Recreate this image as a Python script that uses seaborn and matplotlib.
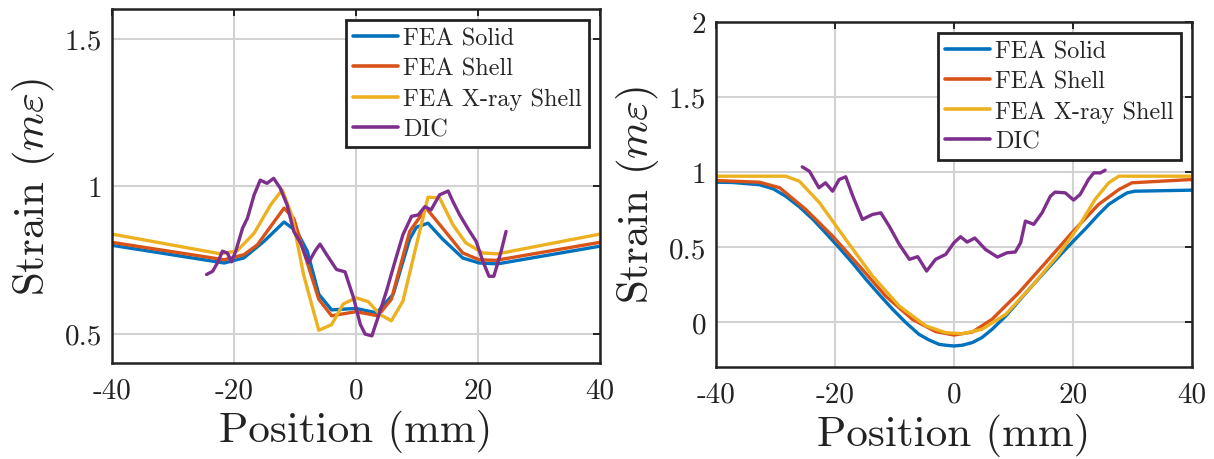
import numpy as np
import pandas as pd
import matplotlib
matplotlib.use("Agg")
import matplotlib.pyplot as plt
import seaborn as sns

# ---------------- data ----------------
series_names = ["FEA Solid", "FEA Shell", "FEA X-ray Shell", "DIC"]
series_colors = ["#0072BD", "#D95319", "#EDB120", "#7E2F8E"]

# Left panel
L_solid_x = [-40, -21.6, -18.4, -15.1, -11.8, -9.7, -8.0, -6.1, -4.0, 0.0, 3.4, 6.1, 8.8, 9.9, 11.8, 14.2, 17.5, 20.2, 23.2, 40]
L_solid_y = [0.799, 0.739, 0.756, 0.812, 0.878, 0.846, 0.78, 0.633, 0.58, 0.585, 0.57, 0.633, 0.82, 0.86, 0.874, 0.82, 0.756, 0.739, 0.736, 0.796]

L_shell_x = [-40, -21.6, -18.4, -16.2, -11.8, -10.2, -8.6, -6.1, -4.0, 0.0, 3.6, 5.8, 8.8, 11.5, 14.2, 17.5, 20.2, 22.9, 40]
L_shell_y = [0.809, 0.75, 0.767, 0.80, 0.925, 0.89, 0.78, 0.616, 0.56, 0.574, 0.56, 0.616, 0.846, 0.925, 0.857, 0.773, 0.75, 0.748, 0.809]

L_xray_x = [-40, -22.2, -19.5, -16.7, -14.0, -12.1, -10.5, -8.6, -7.5, -6.1, -4.0, -2.1, 0.0, 2.0, 3.9, 5.8, 7.7, 9.9, 11.8, 13.7, 15.9, 18.0, 20.8, 23.2, 40]
L_xray_y = [0.837, 0.77, 0.78, 0.84, 0.936, 0.987, 0.90, 0.70, 0.616, 0.511, 0.53, 0.60, 0.621, 0.608, 0.565, 0.543, 0.61, 0.80, 0.962, 0.96, 0.868, 0.807, 0.773, 0.77, 0.837]

L_dic_x = [-24.5, -23.5, -22.7, -21.9, -21.1, -20.4, -19.7, -18.6, -17.8, -16.7, -15.7, -14.6, -13.5, -12.4, -11.3, -10.2, -9.1, -7.8, -6.7, -5.9, -4.8, -3.2, -1.8, -0.4, 0.7, 1.5, 2.6, 3.6, 5.0, 6.4, 7.7, 9.1, 10.2, 11.3, 12.3, 13.7, 15.1, 15.9, 17.0, 18.3, 19.7, 20.8, 21.8, 22.6, 23.8, 24.6]
L_dic_y = [0.70, 0.711, 0.74, 0.779, 0.773, 0.743, 0.78, 0.857, 0.891, 0.97, 1.02, 1.009, 1.026, 0.992, 0.936, 0.846, 0.807, 0.739, 0.78, 0.803, 0.767, 0.717, 0.709, 0.621, 0.531, 0.498, 0.492, 0.554, 0.644, 0.745, 0.835, 0.897, 0.902, 0.93, 0.919, 0.97, 0.983, 0.947, 0.902, 0.857, 0.812, 0.745, 0.694, 0.694, 0.779, 0.846]

# Right panel
R_solid_x = [-40, -37.2, -32.7, -30.4, -28.3, -26.0, -23.7, -21.5, -19.3, -17.0, -14.8, -12.6, -10.3, -8.1, -5.9, -4.2, -2.5, -1.4, 0.0, 1.4, 3.1, 4.7, 6.4, 8.7, 10.9, 13.1, 15.4, 17.6, 19.8, 22.1, 24.3, 26.0, 27.7, 29.1, 30.4, 40]
R_solid_y = [0.931, 0.929, 0.914, 0.887, 0.838, 0.767, 0.683, 0.59, 0.494, 0.39, 0.284, 0.184, 0.084, -0.004, -0.082, -0.12, -0.149, -0.155, -0.16, -0.155, -0.137, -0.104, -0.049, 0.04, 0.14, 0.239, 0.34, 0.435, 0.528, 0.621, 0.716, 0.783, 0.827, 0.86, 0.871, 0.878]

R_shell_x = [-40, -32.7, -29.3, -24.9, -20.4, -15.9, -11.5, -7.0, -3.1, 0.0, 3.1, 6.4, 10.9, 15.4, 19.8, 24.3, 27.7, 29.9, 40]
R_shell_y = [0.942, 0.931, 0.894, 0.749, 0.572, 0.372, 0.173, 0.018, -0.064, -0.087, -0.067, 0.018, 0.195, 0.395, 0.594, 0.783, 0.882, 0.927, 0.949]

R_xray_x = [-40, -28.3, -26.0, -22.6, -18.2, -13.7, -9.2, -4.7, -1.4, 1.4, 4.7, 8.7, 13.1, 17.6, 21.0, 23.7, 26.0, 27.7, 40]
R_xray_y = [0.971, 0.971, 0.938, 0.794, 0.55, 0.306, 0.106, -0.027, -0.071, -0.078, -0.049, 0.051, 0.239, 0.45, 0.639, 0.816, 0.927, 0.971, 0.971]

R_dic_x = [-25.5, -24.3, -22.7, -21.6, -20.4, -19.3, -18.2, -17.0, -15.4, -13.7, -12.3, -10.9, -9.2, -7.5, -6.1, -4.6, -3.1, -1.4, 0.0, 1.1, 2.2, 3.5, 5.3, 7.3, 8.9, 10.3, 11.2, 12.0, 13.4, 14.8, 16.2, 17.0, 18.7, 20.1, 21.2, 22.6, 23.5, 24.6, 25.4]
R_dic_y = [1.033, 1.004, 0.894, 0.927, 0.871, 0.949, 0.967, 0.838, 0.683, 0.716, 0.727, 0.639, 0.517, 0.417, 0.435, 0.339, 0.417, 0.45, 0.528, 0.568, 0.532, 0.559, 0.483, 0.432, 0.461, 0.466, 0.528, 0.672, 0.65, 0.727, 0.838, 0.865, 0.86, 0.812, 0.849, 0.949, 0.993, 0.993, 1.011]

x_ticks = [-40, -20, 0, 20, 40]
x_tick_labels = ["-40", "-20", "0", "20", "40"]
L_y_ticks = [0.5, 1.0, 1.5]
L_y_tick_labels = ["0.5", "1", "1.5"]
R_y_ticks = [0, 0.5, 1.0, 1.5, 2.0]
R_y_tick_labels = ["0", "0.5", "1", "1.5", "2"]

x_label = "Position (mm)"
y_label = r"Strain ($m\varepsilon$)"

# ---------------- style ----------------
sns.set_theme(style="white")
plt.rcParams["font.family"] = ["cmr10", "DejaVu Serif"]
plt.rcParams["mathtext.fontset"] = "cm"
plt.rcParams["axes.unicode_minus"] = False
plt.rcParams["axes.formatter.use_mathtext"] = True

fig = plt.figure(figsize=(12.14, 4.6), dpi=100)
axL = fig.add_axes([112 / 1214, 1 - 364 / 460, (600 - 112) / 1214, (364 - 10) / 460])
axR = fig.add_axes([716 / 1214, 1 - 368 / 460, (1192 - 716) / 1214, (368 - 22.7) / 460])

panels = [
    (axL, [(L_solid_x, L_solid_y), (L_shell_x, L_shell_y), (L_xray_x, L_xray_y), (L_dic_x, L_dic_y)],
     (0.4, 1.6), L_y_ticks, L_y_tick_labels),
    (axR, [(R_solid_x, R_solid_y), (R_shell_x, R_shell_y), (R_xray_x, R_xray_y), (R_dic_x, R_dic_y)],
     (-0.3, 2.0), R_y_ticks, R_y_tick_labels),
]

for ax, data, ylim, yt, ytl in panels:
    for (xs, ys), name, col in zip(data, series_names, series_colors):
        df = pd.DataFrame({"x": xs, "y": ys})
        sns.lineplot(data=df, x="x", y="y", ax=ax, color=col, label=name,
                     linewidth=2.4, estimator=None, sort=False)
    ax.set_xlim(-40, 40)
    ax.set_ylim(*ylim)
    ax.set_xticks(x_ticks)
    ax.set_xticklabels(x_tick_labels)
    ax.set_yticks(yt)
    ax.set_yticklabels(ytl)
    ax.grid(True, color="#d2d2d2", linewidth=1.5)
    ax.set_axisbelow(True)
    for sp in ax.spines.values():
        sp.set_visible(True)
        sp.set_color("#222222")
        sp.set_linewidth(1.8)
    ax.tick_params(axis="both", direction="in", length=5, width=1.4, color="#222222",
                   top=True, right=True, labelsize=21, labelcolor="#222222")
    ax.tick_params(axis="x", pad=10)
    ax.tick_params(axis="y", pad=7)
    ax.set_xlabel(x_label, fontsize=31, color="#222222", labelpad=4)
    ax.set_ylabel(y_label, fontsize=31, color="#222222", labelpad=6)
    leg = ax.legend(loc="upper right", fontsize=17.5, frameon=True, fancybox=False,
                    handlelength=1.85, handletextpad=0.2, labelspacing=0.33,
                    borderaxespad=0.45, borderpad=0.3, framealpha=1)
    leg.get_frame().set_edgecolor("#222222")
    leg.get_frame().set_linewidth(2.0)
    for line in leg.get_lines():
        line.set_linewidth(2.6)

fig.savefig("out.png", dpi=100, facecolor="white")
